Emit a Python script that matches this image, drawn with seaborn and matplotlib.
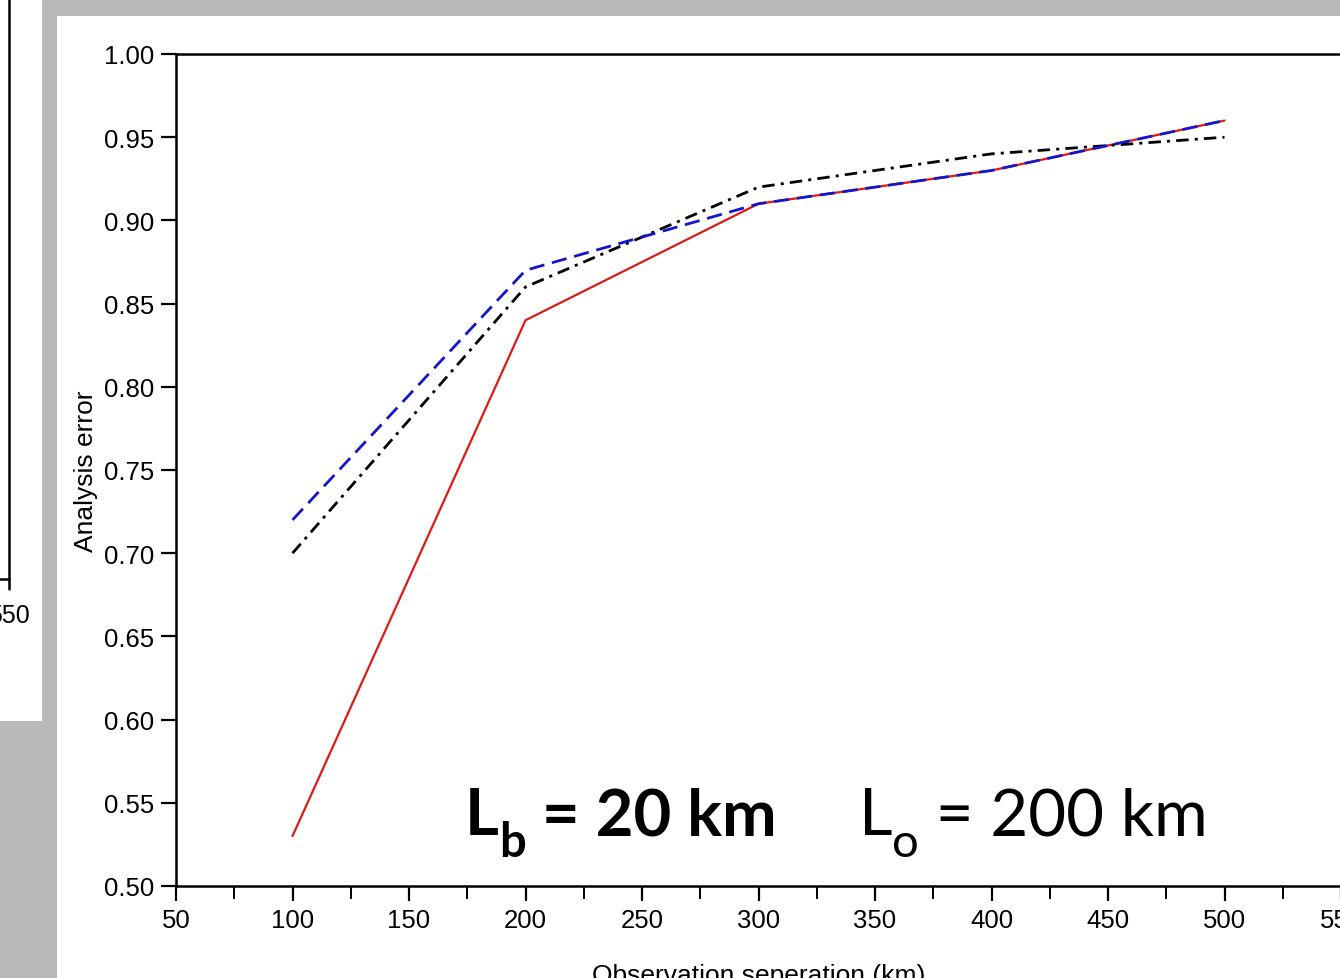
import numpy as np
import pandas as pd
import seaborn as sns
import matplotlib.pyplot as plt
from matplotlib.ticker import MultipleLocator
from matplotlib.patches import Rectangle
from matplotlib.lines import Line2D

# data
separation = [100, 200, 300, 400, 500]
red_err = [0.53, 0.84, 0.91, 0.93, 0.96]
blue_err = [0.72, 0.87, 0.91, 0.93, 0.96]
black_err = [0.70, 0.86, 0.92, 0.94, 0.95]
series_names = ["red", "black", "blue"]

df = pd.DataFrame({
    "sep": separation * 3,
    "err": red_err + black_err + blue_err,
    "run": [n for n in series_names for _ in separation],
})

sns.set_style("ticks")
plt.rcParams['font.family'] = ['Liberation Sans', 'DejaVu Sans']
for k in ['text.color', 'axes.labelcolor', 'xtick.color', 'ytick.color', 'axes.edgecolor']:
    plt.rcParams[k] = 'black'

W, H = 1340, 979
fig = plt.figure(figsize=(W / 100, H / 100), dpi=100, facecolor='#b9b9b9')

# slide panels
fig.patches.append(Rectangle((0, 1 - 722 / H), 42 / W, 722 / H, transform=fig.transFigure,
                             facecolor='white', edgecolor='none', zorder=-5))
fig.patches.append(Rectangle((57 / W, 0), 1 - 57 / W, 1 - 17 / H, transform=fig.transFigure,
                             facecolor='white', edgecolor='none', zorder=-5))
# corner of the neighbouring chart
fig.lines.append(Line2D([9 / W, 9 / W], [1, 1 - 590 / H], transform=fig.transFigure, color='black', lw=1.8))
fig.lines.append(Line2D([0, 9 / W], [1 - 580 / H, 1 - 580 / H], transform=fig.transFigure, color='black', lw=1.8))
fig.text(9 / W, 1 - 616 / H, "550", ha='center', va='center', fontsize=18)

ax = fig.add_axes([176 / W, (H - 887) / H, 1165 / W, 832 / H])
ax.set_facecolor('none')
ax.set_zorder(2)

sns.lineplot(data=df, x="sep", y="err", hue="run", style="run", ax=ax,
             palette={"red": "#e01818", "black": "black", "blue": "#1515cc"},
             dashes={"red": "", "black": (4.5, 2.2, 1.1, 2.2), "blue": (5.5, 2.8)},
             size="run", sizes={"red": 1.6, "black": 2.0, "blue": 2.0},
             legend=False)

ax.set_xlim(50, 550)
ax.set_ylim(0.5, 1.0)
ax.xaxis.set_major_locator(MultipleLocator(50))
ax.xaxis.set_minor_locator(MultipleLocator(25))
ax.yaxis.set_major_locator(MultipleLocator(0.05))
ax.yaxis.set_major_formatter(plt.FormatStrFormatter('%.2f'))
ax.tick_params(axis='both', which='major', direction='out', length=11, width=1.6, labelsize=18.5, pad=5)
ax.tick_params(axis='x', which='minor', direction='out', length=9, width=1.4)
for s in ax.spines.values():
    s.set_linewidth(1.8)

ax.set_xlabel("Observation seperation (km)", fontsize=19, labelpad=22)
ax.set_ylabel("Analysis error", fontsize=19, labelpad=4)

# annotation, built piece by piece so the subscripts sit low like the slide
fig.canvas.draw()
renderer = fig.canvas.get_renderer()


def chain(x, y, pieces):
    for s, size, weight, dy in pieces:
        t = ax.text(x, y, s, fontsize=size, fontweight=weight, family='Lato',
                    ha='left', va='baseline')
        t.set_y(y + dy)
        bb = t.get_window_extent(renderer)
        x = ax.transData.inverted().transform((bb.x1, 0))[0]
    return x


base = 0.531
chain(174, base, [("L", 47, 'bold', 0), ("b", 34, 'bold', -0.013), (" = 20 km", 47, 'bold', 0)])
chain(343, base, [("L", 47, 'normal', 0), ("o", 34, 'normal', -0.013), (" = 200 km", 47, 'normal', 0)])

fig.savefig("out.png", dpi=100, facecolor=fig.get_facecolor())
